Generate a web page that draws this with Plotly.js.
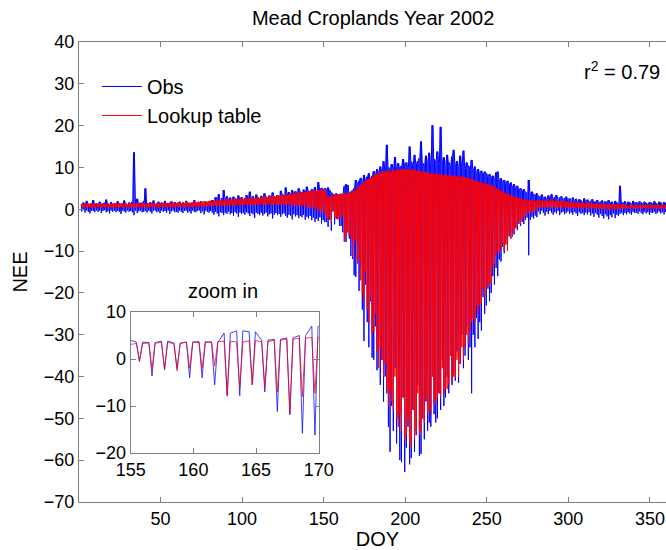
<!DOCTYPE html>
<html>
<head>
<meta charset="utf-8">
<script src="https://cdn.plot.ly/plotly-3.0.1.min.js"></script>
<style>html,body{margin:0;padding:0;overflow:hidden;background:#fff}#chart{width:700px;height:550px}</style>
</head>
<body>
<div id="chart"></div>
<script>
// Daily envelope of half-hourly NEE (day 1..365)
// obsHigh: night-time (upper) value of observed NEE for each day
const obsHigh = [
1.2,1.6,0.9,2.0,1.3,0.8,1.5,2.2,1.1,1.4,
1.0,1.8,1.3,0.7,1.6,2.3,1.2,0.9,1.7,1.1,
1.4,1.0,1.9,1.2,0.8,1.5,2.1,1.3,1.0,1.6,
1.2,1.8,13.6,1.4,2.5,1.1,1.6,0.9,2.0,5.0,
1.5,1.0,1.7,1.2,2.1,0.9,1.4,1.8,1.1,1.6,
1.3,2.0,0.8,1.5,1.2,1.9,1.0,1.7,1.4,1.1,
1.8,1.2,1.6,0.9,2.0,1.3,1.5,1.1,1.7,2.2,
1.2,1.6,1.0,1.9,1.4,1.1,1.8,1.3,1.5,2.0,
2.2,1.8,2.9,2.4,3.6,2.0,2.7,4.6,2.5,3.1,
2.3,2.8,2.1,3.0,2.6,2.2,3.3,2.4,2.9,2.0,
2.7,3.4,2.5,4.2,2.8,3.1,2.4,3.5,2.9,2.6,
3.2,2.7,3.8,3.0,2.5,3.3,2.8,4.0,3.1,2.9,
3.4,3.0,4.4,3.6,3.2,5.2,3.8,4.1,3.5,4.6,
3.9,4.3,3.6,5.0,4.2,3.8,4.7,4.0,5.4,4.4,
4.1,4.8,4.5,5.3,4.2,6.5,4.8,5.1,4.6,5.0,
4.8,5.2,4.5,4.0,3.6,3.5,3.8,3.4,3.6,3.7,
3.5,5.5,6.0,5.8,4.0,4.2,4.5,5.0,7.0,6.2,
6.8,7.5,6.4,8.2,7.0,7.8,8.6,7.2,8.0,9.1,
8.4,9.6,8.8,10.2,9.0,11.5,9.4,15.4,10.0,9.5,
10.8,9.8,12.5,10.2,11.0,9.6,10.4,12.0,10.6,11.2,
10.0,15.0,11.4,10.5,13.0,10.8,11.5,12.2,16.2,11.0,
10.6,12.8,11.2,13.5,10.8,20.1,12.0,11.4,13.8,10.9,
19.7,11.6,12.4,10.5,13.0,11.2,10.4,12.6,14.2,10.8,
11.5,10.2,12.8,10.6,14.0,9.8,11.2,10.4,9.6,11.8,
9.4,10.2,8.8,9.6,8.5,9.2,8.2,9.0,8.6,7.8,
8.4,7.6,8.0,7.2,8.8,9.0,7.0,7.4,6.6,7.0,
6.2,6.8,5.8,6.4,5.5,6.0,5.2,5.6,4.8,5.0,
4.4,4.8,4.2,4.0,7.0,3.8,4.2,3.6,3.4,3.8,
3.2,2.6,3.5,2.8,3.0,2.4,3.3,2.7,3.6,2.5,
2.9,3.4,2.3,2.8,3.1,2.2,2.7,3.0,2.4,2.6,
2.2,2.8,2.0,2.5,1.8,2.4,2.1,1.7,2.6,1.9,
2.3,1.6,2.0,2.4,1.5,1.9,2.2,1.6,1.8,2.1,
1.4,1.9,1.7,2.2,1.5,1.8,1.3,2.0,1.6,1.4,
5.6,1.7,1.5,1.9,1.3,1.8,1.6,1.4,2.0,1.5,
1.7,1.3,1.9,1.6,1.4,1.8,1.5,1.2,1.7,1.6,
1.4,1.9,1.5,1.3,1.8,1.6,1.2,1.7,1.5,1.4,
1.8,1.3,1.6,1.5,1.4
];
// obsLow: daytime (lower) value of observed NEE for each day
const obsLow = [
-0.5,-0.2,-0.8,-0.3,-0.6,-1.0,-0.3,-0.4,-0.7,-0.3,
-0.6,-0.3,-0.9,-0.4,-0.2,-0.7,-0.5,-1.0,-0.3,-0.6,
-0.3,-0.7,-0.4,-0.6,-1.1,-0.3,-0.5,-0.8,-0.3,-0.6,
-0.4,-0.7,-1.4,-0.3,-0.9,-0.5,-0.3,-0.7,-0.6,-0.4,
-0.8,-0.3,-0.6,-1.0,-0.4,-0.3,-0.7,-0.5,-0.9,-0.3,
-0.6,-0.4,-0.8,-0.3,-1.1,-0.5,-0.3,-0.7,-0.6,-0.8,
-0.3,-0.6,-0.9,-0.4,-0.3,-0.8,-0.5,-1.0,-0.3,-0.6,
-0.7,-0.4,-0.3,-0.9,-0.5,-1.2,-0.3,-0.6,-0.8,-0.4,
-0.8,-1.3,-0.6,-1.0,-1.7,-0.7,-0.9,-1.4,-0.8,-1.1,
-0.6,-1.2,-0.9,-1.5,-0.7,-1.0,-1.8,-0.8,-1.1,-0.9,
-1.3,-0.7,-1.0,-1.6,-0.9,-1.2,-2.1,-0.8,-1.1,-1.4,
-0.9,-1.5,-1.1,-0.8,-1.7,-1.2,-1.0,-2.2,-1.3,-0.9,
-1.4,-1.1,-1.8,-1.2,-1.0,-1.6,-2.0,-1.3,-1.5,-2.4,
-1.2,-1.7,-1.4,-2.1,-1.6,-1.9,-1.3,-2.5,-1.8,-2.2,
-1.6,-2.6,-2.0,-3.0,-2.3,-2.8,-1.9,-3.4,-2.6,-3.1,
-3.0,-4.2,-2.5,-5.1,-0.5,-3.6,-2.3,-2.0,-4.0,-4.0,
-5.5,-7.8,-7.8,-5.5,-7.0,-11.2,-11.9,-15.8,-16.2,-12.0,
-19.5,-14.0,-24.0,-31.5,-18.0,-27.0,-33.0,-22.0,-35.5,-36.0,
-28.0,-38.5,-31.0,-42.0,-36.0,-46.0,-40.0,-44.0,-52.0,-58.0,
-47.0,-53.0,-38.0,-56.0,-50.0,-60.0,-60.5,-45.0,-62.8,-57.0,
-52.0,-61.0,-59.5,-48.0,-58.0,-54.0,-42.0,-59.0,-58.5,-50.0,
-55.0,-46.0,-53.0,-51.0,-52.0,-38.0,-49.0,-51.0,-50.0,-44.0,
-48.0,-36.0,-47.0,-45.0,-40.0,-44.0,-32.0,-42.0,-39.0,-41.0,
-34.0,-41.5,-37.0,-30.0,-38.0,-35.0,-28.0,-36.0,-33.0,-44.0,
-30.0,-33.0,-26.0,-31.0,-27.0,-29.0,-21.0,-25.0,-23.0,-19.0,
-22.0,-20.0,-16.0,-18.0,-14.0,-16.0,-12.0,-12.5,-9.0,-10.5,
-8.0,-9.0,-6.5,-7.0,-5.5,-6.0,-4.5,-5.0,-3.5,-4.0,
-3.0,-3.5,-2.5,-2.0,-11.0,-2.5,-1.8,-2.2,-1.5,-1.9,
-0.5,-1.2,-0.3,-0.9,-1.5,-0.6,-1.1,-0.4,-0.8,-1.3,
-0.7,-1.0,-0.4,-1.4,-0.8,-0.6,-1.2,-0.9,-0.5,-1.1,
-0.8,-1.3,-0.6,-1.0,-1.6,-0.7,-1.1,-0.9,-1.4,-0.8,
-1.2,-0.7,-1.5,-1.0,-1.8,-0.9,-1.3,-2.0,-1.1,-1.6,
-2.2,-1.2,-1.7,-2.4,-1.4,-1.9,-1.0,-2.1,-1.3,-1.6,
-1.1,-0.8,-1.4,-0.9,-1.2,-0.7,-1.0,-1.3,-0.6,-0.9,
-0.8,-1.1,-0.5,-0.9,-1.2,-0.6,-1.0,-0.7,-1.3,-0.8,
-0.9,-0.6,-1.1,-0.8,-0.5,-1.0,-0.7,-1.2,-0.6,-0.9,
-0.7,-1.0,-0.5,-0.8,-0.6
];
// modelHigh: night-time value of the lookup-table NEE for each day
const modelHigh = [
1.3,1.2,1.4,1.1,1.3,1.2,1.5,1.3,1.2,1.4,
1.2,1.3,1.1,1.4,1.3,1.2,1.4,1.3,1.1,1.2,
1.4,1.3,1.2,1.5,1.3,1.2,1.4,1.3,1.2,1.3,
1.4,1.2,1.5,1.3,1.4,1.2,1.3,1.5,1.4,1.3,
1.2,1.4,1.3,1.5,1.4,1.3,1.2,1.4,1.5,1.3,
1.4,1.3,1.5,1.4,1.6,1.3,1.4,1.5,1.4,1.6,
1.5,1.4,1.6,1.5,1.7,1.5,1.6,1.4,1.7,1.6,
1.6,1.8,1.7,1.6,1.8,1.9,1.7,1.8,2.0,1.8,
1.9,2.1,1.9,2.2,2.0,2.1,2.3,2.0,2.2,2.4,
2.2,2.3,2.1,2.4,2.3,2.5,2.2,2.4,2.6,2.3,
2.5,2.4,2.7,2.5,2.6,2.8,2.5,2.7,2.9,2.6,
2.8,2.7,3.0,2.8,2.9,3.1,2.8,3.2,3.0,2.9,
3.2,3.1,3.4,3.2,3.3,3.6,3.4,3.5,3.8,3.6,
3.7,3.9,3.6,4.0,3.8,4.1,3.9,4.2,4.0,4.3,
4.1,4.4,4.2,4.5,4.3,4.6,4.4,4.7,4.5,4.6,
3.0,3.2,2.9,3.1,3.3,3.4,3.5,3.3,3.6,3.5,
3.7,3.8,3.6,3.9,3.7,4.0,4.2,4.4,4.6,5.0,
5.3,5.8,6.0,6.6,6.4,7.0,7.2,7.5,7.8,8.0,
8.2,8.5,8.4,8.8,8.7,9.0,8.9,9.2,9.0,9.1,
9.0,9.3,9.2,9.4,9.3,9.5,9.4,9.6,9.5,9.4,
9.6,9.4,9.4,9.5,9.2,9.3,9.0,9.1,8.9,9.0,
8.8,8.9,8.6,8.7,8.2,8.6,8.4,8.5,8.3,8.4,
8.2,8.3,8.1,8.2,8.0,8.1,7.9,8.0,7.9,7.8,
7.9,7.8,7.7,7.8,7.8,7.6,7.5,7.4,7.2,7.3,
7.0,6.9,6.7,6.6,6.4,6.3,6.2,6.0,6.1,5.9,
5.8,5.8,5.5,5.3,5.0,4.8,4.6,4.4,4.2,4.0,
3.8,3.6,3.5,3.3,3.2,3.0,2.9,2.8,2.6,2.5,
2.4,2.3,2.2,2.2,2.1,2.1,2.2,2.0,1.9,2.0,
2.2,2.0,2.1,1.9,2.0,2.2,1.9,2.0,2.4,2.1,
1.9,2.0,1.8,1.9,2.1,1.8,1.7,1.9,1.8,1.6,
1.7,1.6,1.5,1.7,1.6,1.4,1.5,1.6,1.4,1.3,
1.5,1.4,1.3,1.4,1.2,1.3,1.4,1.2,1.3,1.1,
1.2,1.3,1.1,1.2,1.0,1.2,1.1,1.0,1.1,1.2,
1.0,1.1,1.2,1.0,1.1,0.9,1.0,1.1,1.0,0.9,
1.0,1.1,0.9,1.0,1.1,0.9,1.0,0.9,1.1,1.0,
0.9,1.0,1.1,0.9,1.0,0.9,1.1,1.0,0.9,1.0,
1.0,0.9,1.1,1.0,0.9
];
// modelLow: daytime value of the lookup-table NEE for each day
const modelLow = [
0.5,0.3,0.6,0.4,0.5,0.2,0.4,0.6,0.3,0.5,
0.4,0.6,0.3,0.5,0.4,0.6,0.3,0.5,0.4,0.2,
0.5,0.3,0.6,0.4,0.5,0.3,0.4,0.6,0.5,0.3,
0.4,0.6,0.5,0.3,0.6,0.4,0.5,0.3,0.6,0.4,
0.5,0.3,0.6,0.4,0.5,0.6,0.4,0.3,0.5,0.6,
0.4,0.6,0.5,0.7,0.4,0.6,0.5,0.3,0.6,0.5,
0.6,0.5,0.7,0.4,0.6,0.7,0.5,0.6,0.4,0.7,
0.6,0.7,0.5,0.8,0.6,0.7,0.8,0.6,0.7,0.9,
0.7,0.8,0.9,0.7,0.8,1.0,0.8,0.9,0.7,1.0,
0.9,0.8,1.0,0.9,1.1,0.8,1.0,0.9,1.1,1.0,
1.0,1.1,0.9,1.2,1.0,1.1,0.9,1.2,1.0,1.1,
1.2,1.0,1.1,1.3,1.0,1.2,1.1,1.0,1.3,1.1,
1.1,1.2,1.0,1.3,1.1,0.9,1.2,1.0,1.1,0.8,
1.0,0.8,1.1,0.7,0.9,0.6,1.0,0.5,0.8,0.4,
0.6,0.2,0.5,-0.2,0.3,-0.5,0.1,-0.8,-0.3,-1.2,
-2.0,-2.5,-1.8,-3.0,-0.5,-2.0,-2.0,-2.5,-2.0,-2.0,
-1.5,-7.8,-6.0,-5.5,-6.0,-7.0,-11.5,-8.0,-7.3,-13.0,
-12.0,-17.0,-20.0,-22.0,-15.0,-24.0,-27.0,-21.0,-30.0,-29.0,
-25.0,-34.0,-38.0,-33.0,-36.0,-40.0,-37.0,-43.0,-47.0,-44.0,
-46.0,-48.0,-40.0,-50.0,-52.0,-49.0,-53.0,-45.0,-55.0,-54.0,
-50.0,-56.0,-57.0,-48.0,-55.0,-53.0,-44.0,-54.0,-53.0,-50.0,
-51.0,-45.0,-49.0,-48.0,-49.0,-40.0,-46.0,-47.0,-45.0,-44.0,
-45.0,-38.0,-44.0,-43.0,-43.0,-42.0,-35.0,-41.0,-40.0,-40.0,
-36.0,-40.0,-37.0,-33.0,-36.0,-33.0,-30.0,-32.0,-29.0,-27.0,
-26.0,-27.0,-23.0,-25.0,-23.0,-22.5,-19.0,-21.0,-19.0,-18.0,
-18.5,-17.6,-14.0,-13.0,-11.0,-10.0,-10.5,-9.5,-8.0,-10.0,
-8.5,-10.0,-6.0,-7.0,-6.6,-5.0,-4.5,-4.0,-3.0,-3.5,
-2.5,-2.0,-1.5,-1.0,-1.0,-0.8,-0.5,-0.5,-0.3,-0.2,
0.4,0.6,0.3,0.5,0.2,0.5,0.4,0.6,0.3,0.5,
0.4,0.3,0.5,0.4,0.2,0.4,0.5,0.3,0.4,0.2,
0.3,0.4,0.2,0.3,0.4,0.2,0.3,0.1,0.3,0.2,
0.2,0.3,0.1,0.2,0.3,0.1,0.2,0.0,0.2,0.1,
0.0,0.2,0.1,-0.1,0.2,0.0,0.1,-0.1,0.1,0.0,
0.2,0.3,0.1,0.2,0.3,0.2,0.1,0.3,0.2,0.1,
0.2,0.3,0.2,0.1,0.2,0.3,0.2,0.1,0.2,0.3,
0.2,0.1,0.3,0.2,0.1,0.2,0.3,0.2,0.1,0.2,
0.3,0.2,0.1,0.2,0.3
];
const mainXTicks = [50, 100, 150, 200, 250, 300, 350];
const mainYTicks = [-70, -60, -50, -40, -30, -20, -10, 0, 10, 20, 30, 40];
const insetDays = [154, 170];          // days shown in the zoom-in panel
const insetXTicks = [155, 160, 165, 170];
const insetYTicks = [-20, -10, 0, 10];

// build a day/night sequence: night value, daytime dip, night value
function diurnal(hi, lo, first, last) {
  const xs = [], ys = [];
  for (let d = first; d <= last; d++) {
    const i = d - 1;
    xs.push(d + 0.45, d + 0.7, d + 0.95);
    ys.push(hi[i], lo[i], hi[i]);
  }
  return {x: xs, y: ys};
}
const obsAll = diurnal(obsHigh, obsLow, 1, 365);
const modAll = diurnal(modelHigh, modelLow, 1, 365);
const obsZoom = diurnal(obsHigh, obsLow, insetDays[0], insetDays[1]);
const modZoom = diurnal(modelHigh, modelLow, insetDays[0], insetDays[1]);

const FONT = 'Liberation Sans, Arial, Helvetica, sans-serif';
const AX = '#7f7f7f';

const traces = [
  {x: obsAll.x, y: obsAll.y, type: 'scatter', mode: 'lines', name: 'Obs',
   line: {color: '#0000ff', width: 1}, xaxis: 'x', yaxis: 'y'},
  {x: modAll.x, y: modAll.y, type: 'scatter', mode: 'lines', name: 'Lookup table',
   line: {color: '#ff0000', width: 1}, xaxis: 'x', yaxis: 'y'},
  {x: obsZoom.x, y: obsZoom.y, type: 'scatter', mode: 'lines', showlegend: false,
   line: {color: '#0000ff', width: 1}, opacity: 0.75, xaxis: 'x2', yaxis: 'y2'},
  {x: modZoom.x, y: modZoom.y, type: 'scatter', mode: 'lines', showlegend: false,
   line: {color: '#ff0000', width: 1}, opacity: 0.75, xaxis: 'x2', yaxis: 'y2'}
];

const axisCommon = {
  showline: true, linecolor: AX, linewidth: 1, mirror: 'allticks',
  ticks: 'inside', ticklen: 5, tickcolor: AX, showgrid: false, zeroline: false,
  tickfont: {family: FONT, size: 18, color: '#000'}
};

const layout = {
  width: 700, height: 550,
  margin: {l: 79, r: 24, t: 42, b: 48},
  paper_bgcolor: '#fff', plot_bgcolor: '#fff',
  font: {family: FONT, size: 20, color: '#000'},
  title: {text: 'Mead Croplands Year 2002', font: {family: FONT, size: 20, color: '#000'},
          xref: 'container', x: 0.533, xanchor: 'center', yref: 'container', y: 0.967, yanchor: 'middle'},
  showlegend: true,
  legend: {x: 0.03, y: 0.9457, xanchor: 'left', yanchor: 'top', bgcolor: 'rgba(0,0,0,0)',
           borderwidth: 0, itemwidth: 40, font: {family: FONT, size: 20, color: '#000'}},
  xaxis: Object.assign({}, axisCommon, {
    range: [0, 366], tickvals: mainXTicks, domain: [0, 1], anchor: 'y',
    title: {text: 'DOY', font: {family: FONT, size: 20, color: '#000'}, standoff: 0}
  }),
  yaxis: Object.assign({}, axisCommon, {
    range: [-70, 40], tickvals: mainYTicks, domain: [0, 1], anchor: 'x',
    title: {text: 'NEE', font: {family: FONT, size: 20, color: '#000'}, standoff: 10}
  }),
  xaxis2: Object.assign({}, axisCommon, {
    range: [155, 170], tickvals: insetXTicks, domain: [0.0866, 0.4015], anchor: 'y2',
    tickfont: {family: FONT, size: 18, color: '#000'}
  }),
  yaxis2: Object.assign({}, axisCommon, {
    range: [-20, 10], tickvals: insetYTicks, domain: [0.1065, 0.413], anchor: 'x2',
    tickfont: {family: FONT, size: 18, color: '#000'}
  }),
  annotations: [
    {text: 'r<sup>2</sup> = 0.79', xref: 'paper', yref: 'paper', x: 0.9765, y: 0.939,
     xanchor: 'right', yanchor: 'middle', showarrow: false, font: {family: FONT, size: 20, color: '#000'}},
    {text: 'zoom in', xref: 'paper', yref: 'paper', x: 0.241, y: 0.4587,
     xanchor: 'center', yanchor: 'middle', showarrow: false, font: {family: FONT, size: 20, color: '#000'}}
  ]
};

Plotly.newPlot('chart', traces, layout, {staticPlot: true, displayModeBar: false});
</script>
</body>
</html>
